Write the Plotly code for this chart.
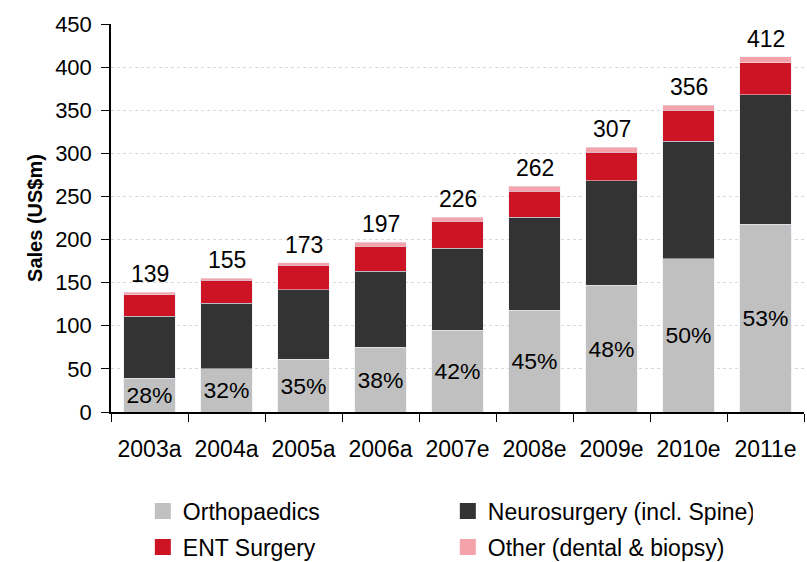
import plotly.graph_objects as go

years = ["2003a", "2004a", "2005a", "2006a", "2007e", "2008e", "2009e", "2010e", "2011e"]
orthopaedics = [39, 50, 61, 75, 95, 118, 147, 178, 218]
neurosurgery = [72, 76, 81, 88, 95, 108, 121, 136, 150]
ent_surgery = [25, 27, 28, 29, 31, 30, 33, 36, 37]
other = [3, 2, 3, 5, 5, 6, 6, 6, 7]
totals = [139, 155, 173, 197, 226, 262, 307, 356, 412]
ortho_share = [28, 32, 35, 38, 42, 45, 48, 50, 53]

series_names = ["Orthopaedics", "Neurosurgery (incl. Spine)", "ENT Surgery", "Other (dental & biopsy)"]
series_colors = ["#c0c0c0", "#333333", "#cc1424", "#f5a3aa"]
series_values = [orthopaedics, neurosurgery, ent_surgery, other]

FONT = "Liberation Sans, Arial, sans-serif"

fig = go.Figure()
for i, (name, color, vals) in enumerate(zip(series_names, series_colors, series_values)):
    kw = {}
    if i == 0:
        kw = dict(text=[f"{p}%" for p in ortho_share], textposition="inside",
                  insidetextanchor="middle", textangle=0,
                  textfont=dict(size=23, color="#000000", family=FONT))
    fig.add_trace(go.Bar(x=years, y=vals, name=name, marker_color=color,
                         showlegend=False, hoverinfo="skip", **kw))

# total labels above each stack
for yr, tot in zip(years, totals):
    fig.add_annotation(x=yr, y=tot, text=str(tot), showarrow=False,
                       yanchor="bottom", yshift=3,
                       font=dict(size=23, color="#000000", family=FONT))

# legend entries (square swatches), two rows
for i, (name, color) in enumerate(zip(series_names, series_colors)):
    fig.add_trace(go.Scatter(
        x=[None], y=[None], mode="markers", name=name,
        marker=dict(symbol="square", size=17, color=color),
        legend="legend" if i < 2 else "legend2", hoverinfo="skip",
    ))

legend_common = dict(
    orientation="h", traceorder="normal",
    xref="container", yref="container",
    xanchor="left", yanchor="middle",
    entrywidth=260, entrywidthmode="pixels", itemsizing="trace",
    font=dict(size=23, family=FONT, color="#000000"), bgcolor="rgba(0,0,0,0)",
)

fig.update_layout(
    width=807, height=562,
    barmode="stack", bargap=0.325,
    plot_bgcolor="#ffffff", paper_bgcolor="#ffffff",
    font=dict(family=FONT, size=22, color="#000000"),
    margin=dict(l=111, r=3, t=24, b=150),
    showlegend=True,
    legend=dict(x=0.177, y=1 - 511 / 562, **legend_common),
    legend2=dict(x=0.177, y=1 - 547 / 562, **legend_common),
    xaxis=dict(
        type="category", showline=True, linecolor="#000000", linewidth=1.5,
        ticks="outside", tickson="boundaries", ticklen=8, tickcolor="#000000",
        tickfont=dict(size=23), showgrid=False, range=[-0.5, 8.5],
        ticklabelstandoff=16,
    ),
    yaxis=dict(
        range=[0, 450], dtick=50, showline=True, linecolor="#000000", linewidth=1.5,
        ticks="outside", ticklen=8, tickcolor="#000000", tickfont=dict(size=22),
        showgrid=True, gridcolor="#d9d9d9", griddash="dot", gridwidth=1,
        zeroline=False, automargin=False, ticklabelstandoff=5,
        title=dict(text="<b>Sales (US$m)</b>", font=dict(size=20), standoff=7),
    ),
)

fig.write_html("out.html", post_script="document.body.style.margin='0';",
               config={"displayModeBar": False})
